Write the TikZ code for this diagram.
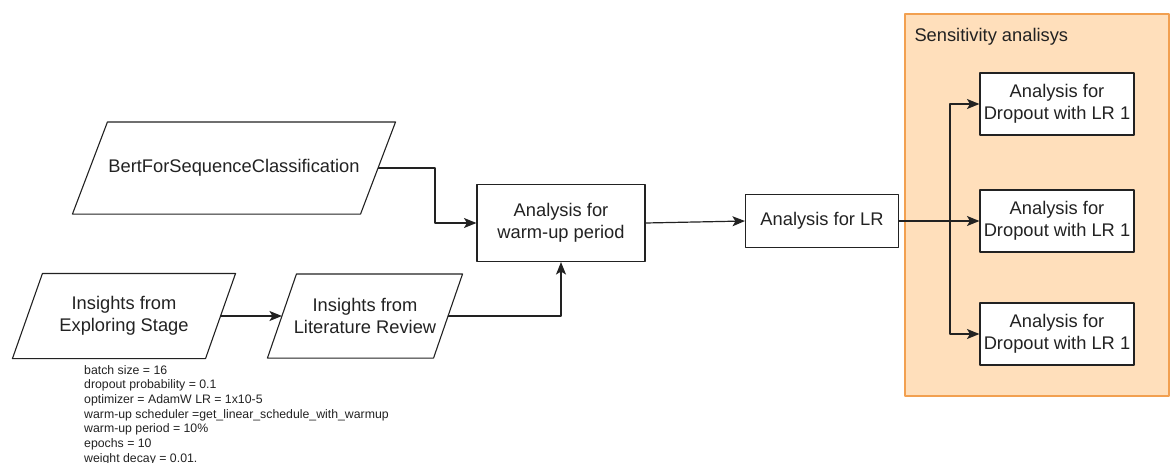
\documentclass[tikz,border=0pt]{standalone}
\usepackage{fontspec}
\setmainfont{Liberation Sans}
\usepackage{xcolor}
\usepackage{tikz}
\usetikzlibrary{arrows.meta,calc}
\definecolor{grpfill}{RGB}{255,223,187}
\definecolor{grpline}{RGB}{242,160,80}
\definecolor{ink}{RGB}{34,34,34}

\begin{document}
\begin{tikzpicture}[x=1pt,y=-1pt,>={Stealth[length=12.5pt,width=10pt,inset=3pt]},line join=round,
  box/.style={draw=ink,line width=1.1pt,fill=white,align=center,text=ink,
    font=\fontsize{18.3}{22}\selectfont,inner sep=2pt},
  para/.style={box,draw=none,fill=none},
  flow/.style={->,line width=1.2pt,ink}]
  \useasboundingbox (0,0) rectangle (1170,463);
  % sensitivity group
  \node[draw=grpline,fill=grpfill,line width=1.2pt,minimum width=264,minimum height=382,inner sep=0] (grp) at (1037,205) {};
  \node[anchor=west,text=ink,font=\fontsize{18.3}{22}\selectfont] (grptitle) at (911,37) {Sensitivity analisys};
  % inputs
  \node[para,minimum width=322,minimum height=91] (bert) at (234,168) {BertForSequenceClassification};
  \node[para,minimum width=222,minimum height=84] (explore) at (124,316) {Insights from\\Exploring Stage};
  \node[para,minimum width=194,minimum height=83] (litrev) at (365,316) {Insights from\\Literature Review};
  \foreach \n/\s in {bert/35,explore/30,litrev/29}
    \draw[ink,line width=1.1pt] ($(\n.north west)+(\s,0)$) -- (\n.north east)
      -- ($(\n.south east)-(\s,0)$) -- (\n.south west) -- cycle;
  % analysis steps
  \node[box,minimum width=168,minimum height=77] (warmup) at (561,223) {Analysis for\\warm-up period};
  \node[box,minimum width=153,minimum height=53] (lr) at (822,221) {Analysis for LR};
  \node[box,minimum width=154,minimum height=62] (drop1) at (1057,104) {Analysis for\\Dropout with LR 1};
  \node[box,minimum width=154,minimum height=62] (drop2) at (1057,221) {Analysis for\\Dropout with LR 1};
  \node[box,minimum width=154,minimum height=62] (drop3) at (1057,334) {Analysis for\\Dropout with LR 1};
  % settings
  \node[anchor=north west,align=left,inner sep=0,text=ink,font=\fontsize{12.3}{14.7}\selectfont] (params) at (84,365)
    {batch size = 16\\dropout probability = 0.1\\optimizer = AdamW LR = 1x10-5\\warm-up scheduler =get\_linear\_schedule\_with\_warmup\\warm-up period = 10\%\\epochs = 10\\weight decay = 0.01.};
  % side midpoints of the slanted boxes
  \coordinate (bertR) at ($(bert.east)-(17.5,0)$);
  \coordinate (exploreR) at ($(explore.east)-(15,0)$);
  \coordinate (litrevL) at ($(litrev.west)+(14.5,0)$);
  \coordinate (litrevR) at ($(litrev.east)-(14.5,0)$);
  % connectors
  \draw[flow] (bertR) -- ++(57,0) |- (warmup.west);
  \draw[flow] (exploreR) -- (litrevL);
  \draw[flow] (litrevR) -| (warmup.south);
  \draw[flow] (warmup.east) -- (lr.west);
  \draw[flow] (lr.east) -- (drop2.west);
  \draw[flow] (lr.east) -- ++(51,0) |- (drop1.west);
  \draw[flow] (lr.east) -- ++(51,0) |- (drop3.west);
\end{tikzpicture}
\end{document}
